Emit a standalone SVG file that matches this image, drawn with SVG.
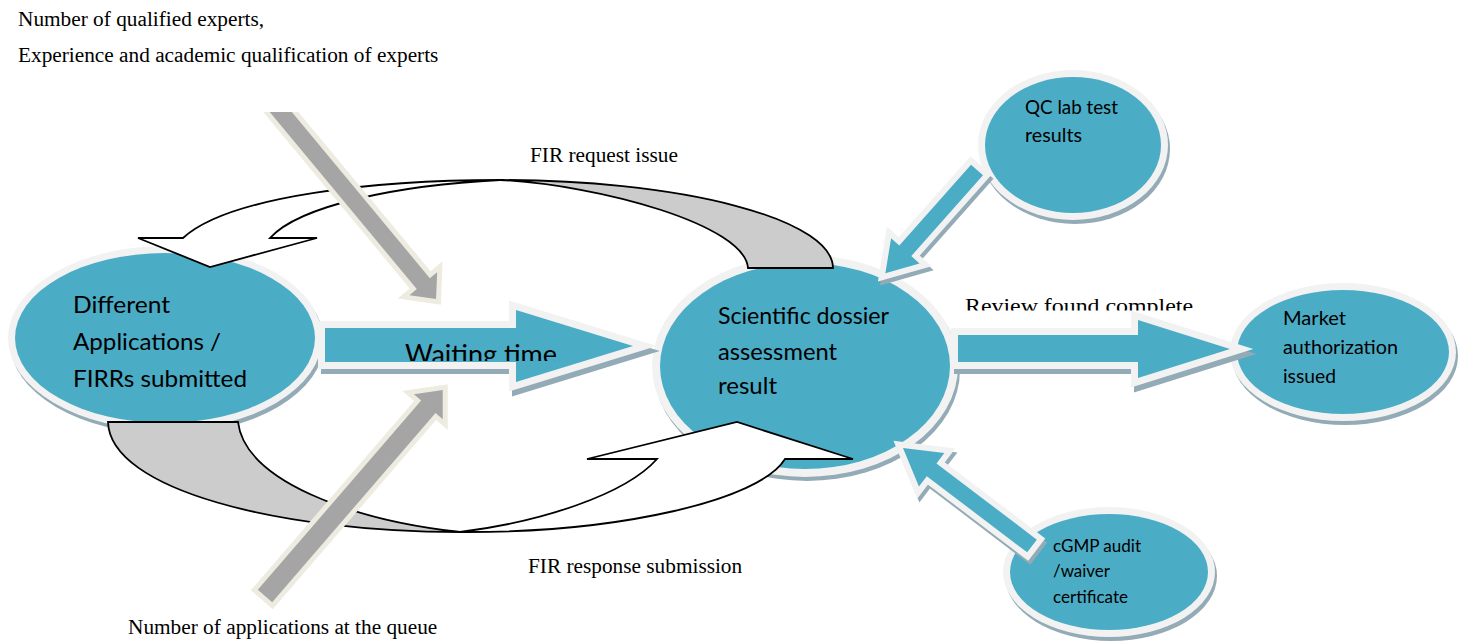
<svg xmlns="http://www.w3.org/2000/svg" width="1465" height="641" viewBox="0 0 1465 641">
<defs>
<style>
.shadow{fill:#93ABB6}
.rim{fill:#F2F2F2}
.blue{fill:#4BACC6}
.nt{font-family:Lato,"Open Sans","Liberation Sans",sans-serif;fill:#000}
.lbl{font-family:"Liberation Serif","Times New Roman",serif;fill:#000;font-size:21.3px}
.barrow{fill:#4BACC6;stroke:#F2F2F2;paint-order:stroke;stroke-linejoin:miter;stroke-miterlimit:10}
.bshadow{fill:#93ABB6;stroke:#93ABB6;stroke-linejoin:miter;stroke-miterlimit:10}
.garrow{fill:#A5A5A5;stroke:#EEECE1;stroke-width:10;paint-order:stroke;stroke-linejoin:miter;stroke-miterlimit:10}
.curve{stroke:#000;stroke-width:1.8;stroke-linejoin:miter}
</style>
<clipPath id="clipTop"><rect x="0" y="112" width="1465" height="529"/></clipPath>
<clipPath id="clipWait"><rect x="0" y="0" width="1465" height="361"/></clipPath>
<clipPath id="clipReview"><rect x="0" y="0" width="1465" height="310.5"/></clipPath>
</defs>
<rect width="1465" height="641" fill="#fff"/>

<g id="node-applications">
<ellipse class="shadow" cx="167" cy="342" rx="157" ry="92"/>
<ellipse class="rim" cx="165" cy="338" rx="157" ry="92"/>
<ellipse class="blue" cx="165" cy="338" rx="150" ry="85"/>
<text class="nt" font-size="23" x="73" y="313" textLength="97" lengthAdjust="spacingAndGlyphs">Different</text>
<text class="nt" font-size="23" x="73" y="350" textLength="148" lengthAdjust="spacingAndGlyphs">Applications /</text>
<text class="nt" font-size="23" x="73" y="387" textLength="174" lengthAdjust="spacingAndGlyphs">FIRRs submitted</text>
</g>

<g id="node-assessment">
<ellipse class="shadow" cx="807" cy="370" rx="153" ry="111"/>
<ellipse class="rim" cx="805" cy="366" rx="153" ry="111"/>
<ellipse class="blue" cx="805" cy="366" rx="145" ry="103"/>
<text class="nt" font-size="23" x="718" y="324" textLength="171" lengthAdjust="spacingAndGlyphs">Scientific dossier</text>
<text class="nt" font-size="23" x="718" y="360" textLength="119" lengthAdjust="spacingAndGlyphs">assessment</text>
<text class="nt" font-size="23" x="718" y="394" textLength="59" lengthAdjust="spacingAndGlyphs">result</text>
</g>

<g id="node-qc">
<ellipse class="shadow" cx="1075" cy="149" rx="95" ry="75"/>
<ellipse class="rim" cx="1073" cy="145" rx="95" ry="75"/>
<ellipse class="blue" cx="1073" cy="145" rx="88" ry="68"/>
<text class="nt" font-size="18.5" x="1025" y="114" textLength="93" lengthAdjust="spacingAndGlyphs">QC lab test</text>
<text class="nt" font-size="18.5" x="1025" y="142" textLength="57" lengthAdjust="spacingAndGlyphs">results</text>
</g>

<g id="node-market">
<ellipse class="shadow" cx="1345" cy="356" rx="113" ry="69"/>
<ellipse class="rim" cx="1343" cy="352" rx="113" ry="69"/>
<ellipse class="blue" cx="1343" cy="352" rx="106" ry="62"/>
<text class="nt" font-size="18.5" x="1283" y="325" textLength="63" lengthAdjust="spacingAndGlyphs">Market</text>
<text class="nt" font-size="18.5" x="1283" y="354" textLength="115" lengthAdjust="spacingAndGlyphs">authorization</text>
<text class="nt" font-size="18.5" x="1283" y="383" textLength="53" lengthAdjust="spacingAndGlyphs">issued</text>
</g>

<g id="node-cgmp">
<ellipse class="shadow" cx="1111" cy="576" rx="106" ry="65"/>
<ellipse class="rim" cx="1109" cy="572" rx="106" ry="65"/>
<ellipse class="blue" cx="1109" cy="572" rx="99" ry="58"/>
<text class="nt" font-size="17" x="1053" y="552" textLength="88" lengthAdjust="spacingAndGlyphs">cGMP audit</text>
<text class="nt" font-size="17" x="1053" y="577" textLength="57" lengthAdjust="spacingAndGlyphs">/waiver</text>
<text class="nt" font-size="17" x="1053" y="603" textLength="75" lengthAdjust="spacingAndGlyphs">certificate</text>
</g>

<g id="connectors">
<!-- FIR request issue curved arrow -->
<path class="curve" fill="#CCCCCC" d="M 500,180 A 333 88 0 0 1 833,268 L 748,268 C 745,225 600,185 500,180 Z"/>
<path class="curve" fill="#FFFFFF" d="M 500,180 C 380,180 230,195 183,238 L 138,238 L 210,267 L 317,238 L 270,238 C 300,205 400,185 500,180 Z"/>
<!-- FIR response submission curved arrow -->
<path class="curve" fill="#CCCCCC" d="M 108,422 L 238,422 C 245,480 350,520 460,532 C 280,532 110,490 108,422 Z"/>
<path class="curve" fill="#FFFFFF" d="M 460,532 C 540,522 625,495 657,459 L 587,459 L 737,422 L 853,459 L 785,459 C 760,500 620,533 460,532 Z"/>
<!-- grey input arrows -->
<g clip-path="url(#clipTop)">
<polygon class="garrow" transform="translate(270,99) rotate(50.3)" points="0,-8.5 240,-8.5 240,-18 260,0 240,18 240,8.5 0,8.5"/>
</g>
<polygon class="garrow" transform="translate(265,596) rotate(-49.2)" points="0,-9.5 250,-9.5 250,-19 272,0 250,19 250,9.5 0,9.5"/>
<!-- Waiting time arrow -->
<polygon class="bshadow" stroke-width="14" transform="translate(3,5)" points="325,328 516,328 516,310 633,346 516,382 516,362 325,362"/>
<polygon class="barrow" stroke-width="14" points="325,328 516,328 516,310 633,346 516,382 516,362 325,362"/>
<text class="nt" font-size="27" x="405" y="364" textLength="152" lengthAdjust="spacingAndGlyphs" clip-path="url(#clipWait)">Waiting time</text>
<!-- Review found complete arrow -->
<polygon class="bshadow" stroke-width="14" transform="translate(3,5)" points="958,335 1138,335 1138,320 1230,349 1138,378 1138,362 958,362"/>
<polygon class="barrow" stroke-width="14" points="958,335 1138,335 1138,320 1230,349 1138,378 1138,362 958,362"/>
<!-- QC arrow -->
<polygon class="bshadow" stroke-width="12" transform="translate(2,4) translate(977,170) rotate(131.6)" points="0,-8 108,-8 108,-19 138,0 108,19 108,8 0,8"/>
<polygon class="barrow" stroke-width="12" transform="translate(977,170) rotate(131.6)" points="0,-8 108,-8 108,-19 138,0 108,19 108,8 0,8"/>
<!-- cGMP arrow -->
<polygon class="bshadow" stroke-width="12" transform="translate(2,4) translate(1032,546) rotate(217.2)" points="0,-8 126,-8 126,-21 162,0 126,21 126,8 0,8"/>
<polygon class="barrow" stroke-width="12" transform="translate(1032,546) rotate(217.2)" points="0,-8 126,-8 126,-21 162,0 126,21 126,8 0,8"/>
</g>

<g id="labels">
<text class="lbl" x="18" y="26">Number of qualified experts,</text>
<text class="lbl" x="18" y="62">Experience and academic qualification of experts</text>
<text class="lbl" x="530" y="162">FIR request issue</text>
<text class="lbl" x="965" y="312.5" font-size="24" textLength="228" lengthAdjust="spacingAndGlyphs" clip-path="url(#clipReview)">Review found complete</text>
<text class="lbl" x="528" y="573">FIR response submission</text>
<text class="lbl" x="128" y="634">Number of applications at the queue</text>
</g>
</svg>
